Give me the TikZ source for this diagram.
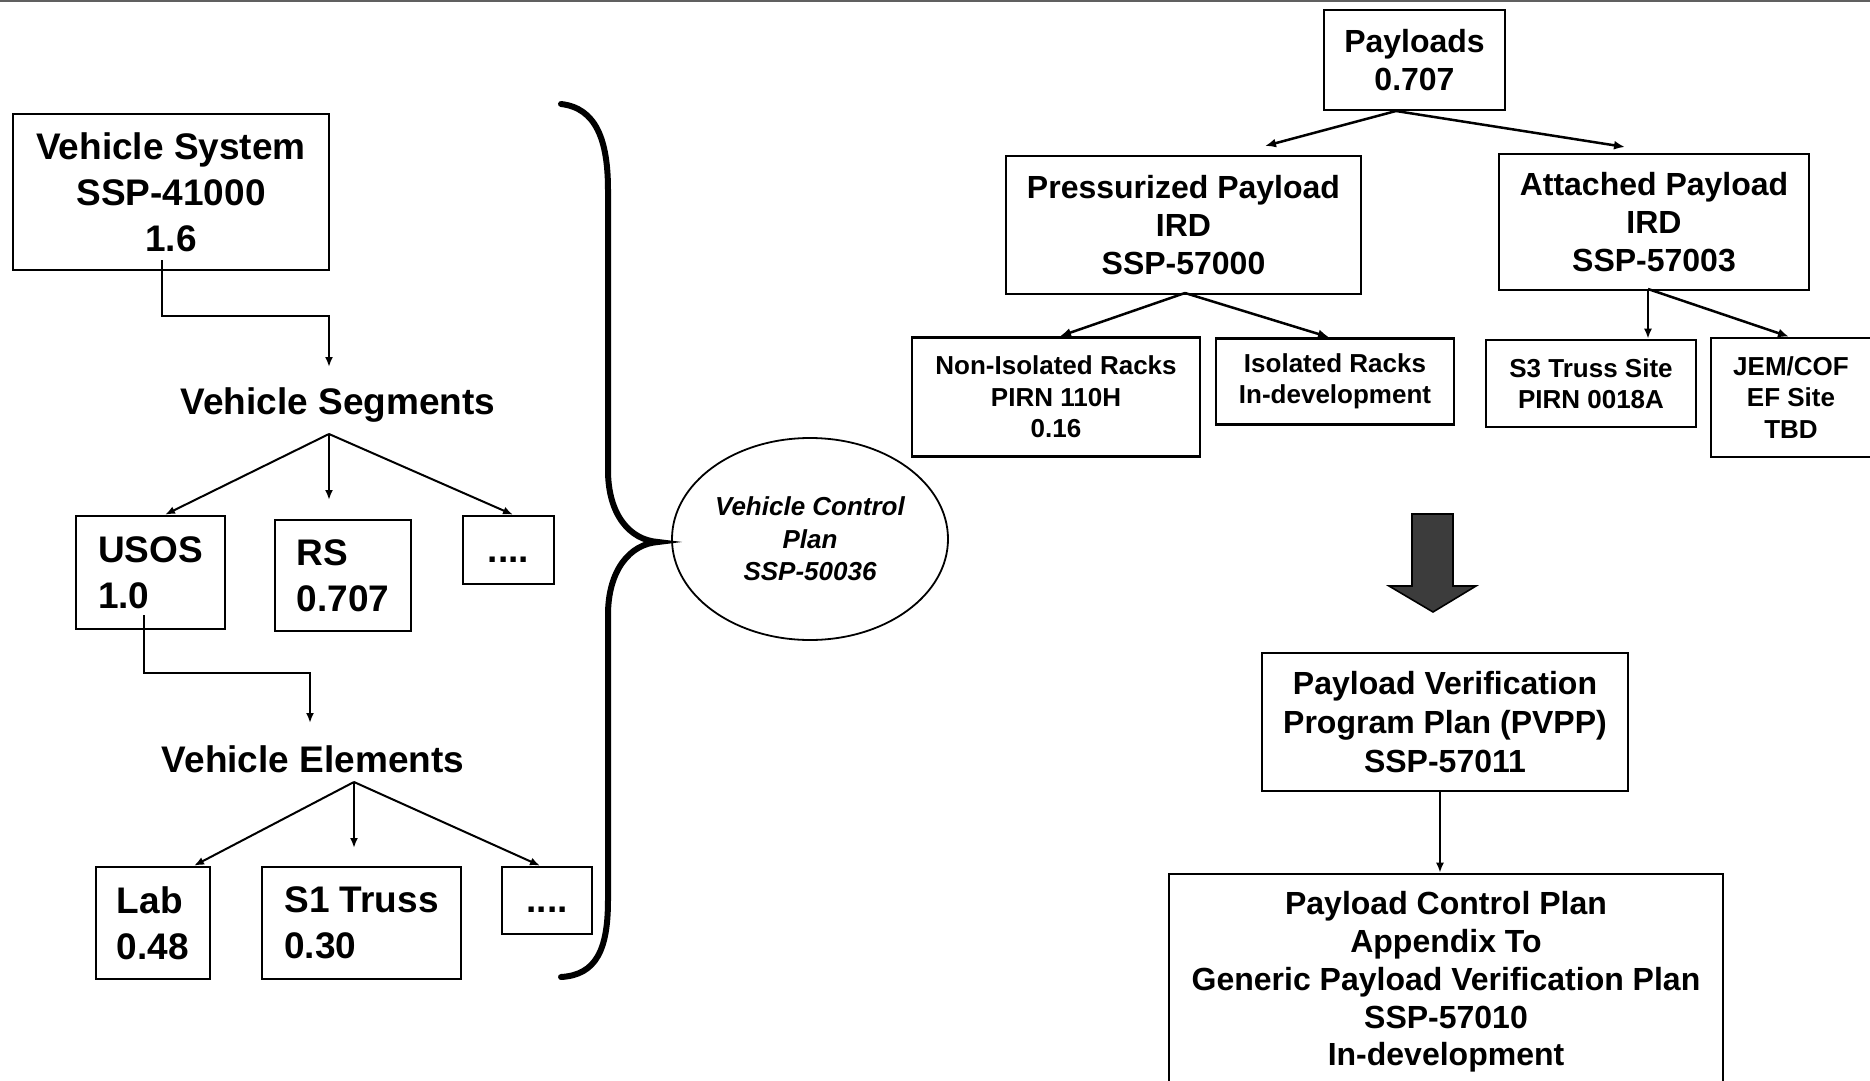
\documentclass[tikz,border=0pt]{standalone}
\usepackage{fontspec}
\setmainfont{Liberation Sans}
\usetikzlibrary{shapes.geometric,arrows.meta}
\definecolor{arrowgray}{HTML}{3C3C3C}
\definecolor{topgray}{HTML}{606060}
\begin{document}
\begin{tikzpicture}[x=0.5pt,y=-0.5pt,
  wh/.style 2 args={minimum width=#1*0.5pt,minimum height=#2*0.5pt},
  box/.style={draw,line width=1.3pt,inner sep=0pt,align=center},
  lbox/.style={draw,line width=1.3pt,inner sep=0pt,align=left},
  dotbox/.style={draw,line width=1.3pt,inner sep=0pt,text height=12pt,text depth=0pt},
  fL/.style={font=\bfseries\fontsize{18.5}{23}\selectfont},
  fM/.style={font=\bfseries\fontsize{16}{19.2}\selectfont},
  fS/.style={font=\bfseries\fontsize{13}{15.75}\selectfont},
  fE/.style={font=\bfseries\itshape\fontsize{13}{16.2}\selectfont},
  conn/.style={line width=1pt,-{Latex[length=5pt,width=4pt]}},
  connb/.style={line width=1.25pt,-{Latex[length=5.5pt,width=4.5pt]}},
]
\useasboundingbox (0,0) rectangle (1870,1081);
\draw[topgray,line width=1pt] (0,1) -- (1870,1);

% ---------- left tree ----------
\node[box,fL,wh={316}{156}] (vs) at (171,192) {Vehicle System\\SSP-41000\\1.6};
\node[fL,inner sep=0pt] (vseg) at (338,405) {Vehicle Segments};
\node[lbox,fL,wh={149}{113}] (usos) at (150.5,572.5) {USOS\\1.0};
\node[lbox,fL,wh={136}{111}] (rs) at (343,575.5) {RS\\0.707};
\node[dotbox,fL,wh={91}{68}] (dots1) at (508.5,550) {....};
\node[fL,inner sep=0pt] (velem) at (313,759) {Vehicle Elements};
\node[lbox,fL,wh={114}{112}] (lab) at (153,923) {Lab\\0.48};
\node[lbox,fL,wh={199}{112}] (s1) at (361.5,923) {S1 Truss\\0.30};
\node[dotbox,fL,wh={90}{67}] (dots2) at (547,900.5) {....};

\coordinate (vsout) at (162,260);
\coordinate (vsegin) at (329,367);
\draw[conn] (vsout) -- (162,316) -| (vsegin);

\coordinate (segfan) at (329,434);
\coordinate (rsin) at (329,500);
\draw[conn] (segfan) -- (usos.north -| 165,0);
\draw[conn] (segfan) -- (rsin);
\draw[conn] (segfan) -- (dots1.north -| 513,0);

\coordinate (usosout) at (144,615);
\coordinate (velemin) at (310,723);
\draw[conn] (usosout) -- (144,673) -| (velemin);

\coordinate (elfan) at (354,782);
\coordinate (s1in) at (354,848);
\draw[conn] (elfan) -- (lab.north -| 194,0);
\draw[conn] (elfan) -- (s1in);
\draw[conn] (elfan) -- (dots2.north -| 540,0);

% brace
\draw[line width=3pt,line cap=round]
  (561,104) .. controls (596,108) and (608,140) .. (608,190)
  -- (608,470) .. controls (608,515) and (630,540) .. (658,542)
  .. controls (630,544) and (608,570) .. (608,615)
  -- (608,900) .. controls (608,950) and (596,975) .. (561,977);

\node[draw,ellipse,line width=0.9pt,fE,align=center,inner sep=0pt,wh={276}{202}] (vcp) at (810,539)
  {Vehicle Control\\Plan\\SSP-50036};

% ---------- right tree ----------
\node[box,fM,wh={181}{100}] (pay) at (1414.5,60) {Payloads\\0.707};
\node[box,fM,wh={355}{138}] (press) at (1183.5,225) {Pressurized Payload\\IRD\\SSP-57000};
\node[box,fM,wh={310}{136}] (att) at (1654,222) {Attached Payload\\IRD\\SSP-57003};
\node[box,fS,wh={288}{119}] (noniso) at (1056,397) {Non-Isolated Racks\\PIRN 110H\\0.16};
\node[box,fS,wh={238}{86}] (iso) at (1335,381.5) {Isolated Racks\\In-development};
\node[box,fS,wh={210}{87}] (s3) at (1591,383.5) {S3 Truss Site\\PIRN 0018A};
\node[box,fS,wh={160}{119}] (jem) at (1791,397.5) {JEM/COF\\EF Site\\TBD};

\coordinate (payout) at (1396,111);
\coordinate (pressin) at (1265,146);
\coordinate (attin) at (1625,147);
\draw[connb] (payout) -- (pressin);
\draw[connb] (payout) -- (attin);

\coordinate (pressout) at (1185,293);
\draw[connb] (pressout) -- (noniso.north -| 1060,0);
\draw[connb] (pressout) -- (iso.north -| 1329,0);

\coordinate (attout) at (1648,289);
\draw[conn] (attout) -- (s3.north -| 1648,0);
\draw[connb] (attout) -- (jem.north -| 1789,0);

% big arrow
\draw[fill=arrowgray,line width=0.8pt,line join=miter]
  (1412,514) -- (1453,514) -- (1453,586) -- (1476,586) -- (1433,612)
  -- (1389,586) -- (1412,586) -- cycle;

\node[box,font=\bfseries\fontsize{16}{19.5}\selectfont,wh={366}{138}] (pvpp) at (1445,722)
  {Payload Verification\\Program Plan (PVPP)\\SSP-57011};
\node[box,font=\bfseries\fontsize{16}{18.9}\selectfont,wh={554}{216}] (gpvp) at (1446,982)
  {Payload Control Plan\\Appendix To\\Generic Payload Verification Plan\\SSP-57010\\In-development};
\draw[conn] (pvpp.south -| 1440,0) -- (gpvp.north -| 1440,0);
\end{tikzpicture}
\end{document}
